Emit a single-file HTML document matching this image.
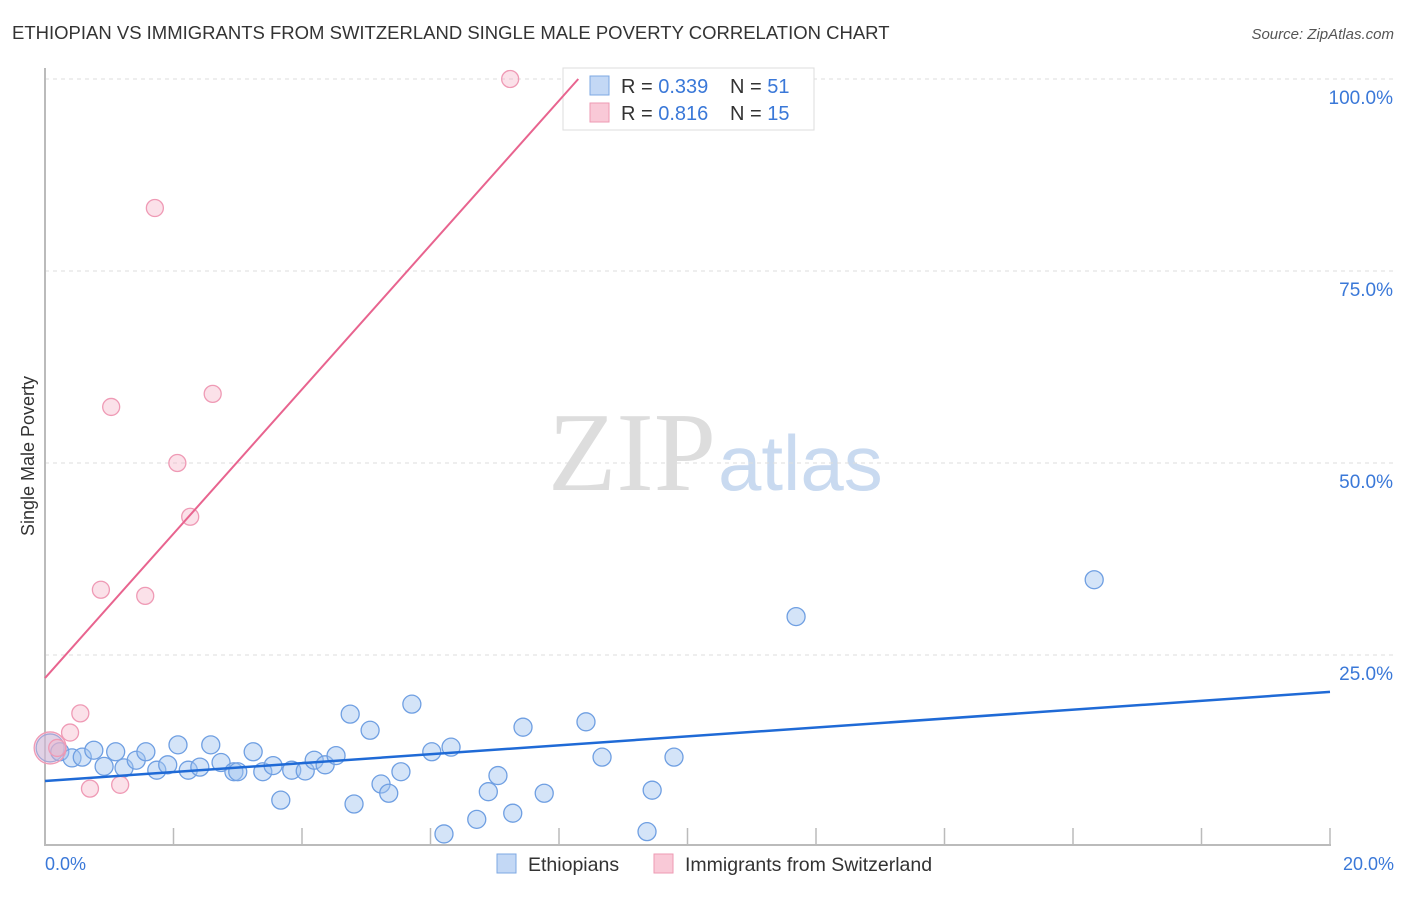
<!DOCTYPE html>
<html><head><meta charset="utf-8"><style>
body{margin:0;background:#fff;font-family:"Liberation Sans",sans-serif;}
</style></head><body>
<svg width="1406" height="892" xmlns="http://www.w3.org/2000/svg" font-family="Liberation Sans, sans-serif">
<text x="12" y="39" font-size="18.5" fill="#333">ETHIOPIAN VS IMMIGRANTS FROM SWITZERLAND SINGLE MALE POVERTY CORRELATION CHART</text>
<text x="1394" y="39" font-size="15" fill="#555" font-style="italic" text-anchor="end">Source: ZipAtlas.com</text>
<text x="716" y="490" font-size="112" fill="#ddd" text-anchor="end" font-family="Liberation Serif, serif">ZIP</text>
<text x="718" y="490" font-size="78" fill="#c9daf0">atlas</text>
<g id="grid"></g>
<g id="axes"></g>
<text transform="translate(34,456) rotate(-90)" font-size="18" fill="#333" text-anchor="middle">Single Male Poverty</text>
<text x="45" y="870" font-size="18" fill="#3a78d8">0.0%</text>
<text x="1394" y="870" font-size="18" fill="#3a78d8" text-anchor="end">20.0%</text>
<g id="pts"></g>
<g>
<rect x="563" y="68" width="251" height="62" fill="#fff" stroke="#ddd"/>
<rect x="590" y="76" width="19" height="19" fill="#c3d8f5" stroke="#7ea8e3"/>
<rect x="590" y="103" width="19" height="19" fill="#f9c9d7" stroke="#ee9ab3"/>
<text x="621" y="93" font-size="20" fill="#333">R = <tspan fill="#3a78d8">0.339</tspan><tspan x="730">N = </tspan><tspan fill="#3a78d8">51</tspan></text>
<text x="621" y="120" font-size="20" fill="#333">R = <tspan fill="#3a78d8"> 0.816</tspan><tspan x="730">N = </tspan><tspan fill="#3a78d8">15</tspan></text>
</g>
<g id="lines"></g>
<g>
<rect x="497" y="854" width="19" height="19" fill="#c3d8f5" stroke="#7ea8e3"/>
<text x="528" y="871" font-size="19.5" fill="#333">Ethiopians</text>
<rect x="654" y="854" width="19" height="19" fill="#f9c9d7" stroke="#ee9ab3"/>
<text x="685" y="871" font-size="19.5" fill="#333">Immigrants from Switzerland</text>
</g>
</svg>
<script>
const yTicks=[25,50,75,100];
const xTickVals=[2,4,6,8,10,12,14,16,18,20];
const blueX=[0.08,0.23,0.42,0.58,0.76,0.92,1.1,1.23,1.42,1.57,1.74,1.91,2.07,2.23,2.41,2.58,2.74,2.94,3.0,3.24,3.39,3.55,3.67,3.84,4.05,4.19,4.36,4.53,4.75,4.81,5.06,5.23,5.35,5.54,5.71,6.02,6.21,6.32,6.72,6.9,7.05,7.28,7.44,7.77,8.42,8.67,9.37,9.45,9.79,11.69,16.33];
const blueY=[12.9,12.4,11.6,11.7,12.6,10.5,12.4,10.3,11.3,12.4,10.0,10.7,13.3,10.0,10.4,13.3,11.0,9.8,9.8,12.4,9.8,10.6,6.1,10.0,9.9,11.3,10.7,11.9,17.3,5.6,15.2,8.2,7.0,9.8,18.6,12.4,1.7,13.0,3.6,7.2,9.3,4.4,15.6,7.0,16.3,11.7,2.0,7.4,11.7,30.0,34.8];
const pinkX=[0.08,0.19,0.39,0.55,0.7,0.87,1.03,1.17,1.56,1.71,2.06,2.26,2.61,7.24];
const pinkY=[12.9,12.9,14.9,17.4,7.6,33.5,57.3,8.1,32.7,83.2,50.0,43.0,59.0,100.0];
const blueTrend=[8.6,20.2];
const pinkTrend=[22.0,100.0];
const pinkTrendEndX=8.3;
const NS="http://www.w3.org/2000/svg";
const X=v=>45+v/20*1285, Y=v=>847-v/25*192;
function mk(t,a,p){const e=document.createElementNS(NS,t);for(const k in a)e.setAttribute(k,a[k]);p.appendChild(e);return e;}
const grid=document.getElementById('grid');
yTicks.forEach(t=>{
 const l=mk('line',{x1:45,x2:1394,y1:Y(t),y2:Y(t),stroke:'#ddd','stroke-dasharray':'4,4'},grid);
 
 
 const tx=mk('text',{x:1393,y:Y(t)+25,'font-size':19,fill:'#3a78d8','text-anchor':'end'},grid);
 tx.textContent=t.toFixed(1)+'%';
 
 
});
const ax=document.getElementById('axes');
const a1=mk('line',{x1:45,x2:45,y1:68,y2:846,stroke:'#bbb','stroke-width':2},ax);


const a2=mk('line',{x1:44,x2:1331,y1:845,y2:845,stroke:'#bbb','stroke-width':2},ax);


xTickVals.forEach(v=>{
 const t=mk('line',{x1:X(v),x2:X(v),y1:828,y2:845,stroke:'#bbb','stroke-width':1.5},ax);
 
 
});
const pts=document.getElementById('pts');
blueX.forEach((x,i)=>{
 const c=mk('circle',{cx:X(x),cy:Y(blueY[i]),r:i==0?14:9,fill:'rgba(160,196,240,0.45)',stroke:'#6f9fe2','stroke-width':1.3},pts);
 
 
});
pinkX.forEach((x,i)=>{
 const c=mk('circle',{cx:X(x),cy:Y(pinkY[i]),r:i==0?16:8.5,fill:'rgba(246,180,200,0.4)',stroke:'#ef9ab5','stroke-width':1.3},pts);
 
 
});
const ln=document.getElementById('lines');
const b=mk('line',{x1:X(0),y1:Y(blueTrend[0]),x2:X(20),y2:Y(blueTrend[1]),stroke:'#1f6ad6','stroke-width':2.5},ln);


const p=mk('line',{x1:X(0),y1:Y(pinkTrend[0]),x2:X(pinkTrendEndX),y2:Y(pinkTrend[1]),stroke:'#e8648f','stroke-width':2},ln);


</script>
</body></html>
